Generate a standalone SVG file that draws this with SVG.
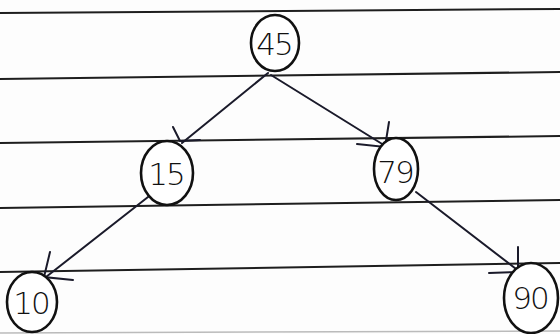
<svg xmlns="http://www.w3.org/2000/svg" width="560" height="334" viewBox="0 0 560 334">
<style>
.rule{stroke:#1e1e1e;stroke-width:2;fill:none}
.edge{stroke:#1a1a2a;stroke-width:2;fill:none;stroke-linecap:round}
.node ellipse{fill:#fff;stroke:#111;stroke-width:2.6}
.node text{font-family:"DejaVu Sans","Liberation Sans",sans-serif;font-size:31px;font-weight:300;letter-spacing:-2px;fill:#111;text-anchor:middle;dominant-baseline:central}
</style>
<rect width="560" height="334" fill="#fdfdfd"/>
<g id="paper">
<line class="rule" x1="0" y1="13" x2="560" y2="9"/>
<line class="rule" x1="0" y1="79" x2="560" y2="72"/>
<line class="rule" x1="0" y1="143" x2="560" y2="136"/>
<line class="rule" x1="0" y1="208" x2="560" y2="200"/>
<line class="rule" x1="0" y1="272" x2="560" y2="263"/>
<line x1="0" y1="333" x2="560" y2="331" stroke="#bbb" stroke-width="1.5"/>
</g>
<g id="connectors">
<line class="edge" x1="268" y1="73" x2="182" y2="143"/>
<path class="edge" d="M173 127 L180 141 L200 140"/>
<line class="edge" x1="271" y1="75" x2="387" y2="147"/>
<path class="edge" d="M389 122 L385 147 L357 144"/>
<line class="edge" x1="148" y1="197" x2="46" y2="277"/>
<path class="edge" d="M50 252 L44 277 L73 280"/>
<line class="edge" x1="416" y1="192" x2="520" y2="272"/>
<path class="edge" d="M518 247 L518 272 L489 273"/>
</g>
<g id="n45" class="node"><ellipse cx="275" cy="43" rx="24" ry="28"/><text x="274" y="44">45</text></g>
<g id="n15" class="node"><ellipse cx="167" cy="173" rx="26" ry="32"/><text x="166" y="174">15</text></g>
<g id="n79" class="node"><ellipse cx="396" cy="169" rx="22" ry="31"/><text x="395" y="172">79</text></g>
<g id="n10" class="node"><ellipse cx="32" cy="302" rx="25" ry="30"/><text x="31" y="303">10</text></g>
<g id="n90" class="node"><ellipse cx="531" cy="298" rx="27" ry="35"/><text x="530" y="298">90</text></g>
</svg>
